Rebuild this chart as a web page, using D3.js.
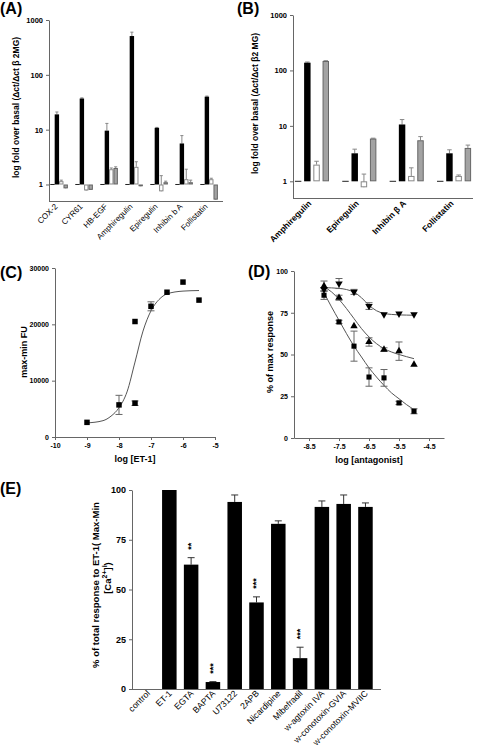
<!DOCTYPE html>
<html><head><meta charset="utf-8">
<script src="https://cdn.jsdelivr.net/npm/d3@7"></script>
<style>body{margin:0;background:#fff}svg{display:block}text{font-family:"Liberation Sans",Arial,sans-serif}</style>
</head><body><svg id="c" width="477" height="749"></svg>
<script>
// ---------- Panel A data ----------
const genesA = ["COX-2","CYR61","HB-EGF","Amphiregulin","Epiregulin","Inhibin b A","Follistatin"];
const basalA = [1,1,1,1,1,1,1];
const blackA = [19, 37, 9.6, 510, 10.8, 5.6, 40];
const blackA_top = [21, 38, 13, 600, 11, 7.8, 41];
const whiteA = [1.15, 0.78, 1.9, 2.1, 0.75, 1.25, 1.25];
const whiteA_top = [1.2, 0.8, 2.0, 2.6, 1.45, 1.9, 1.3];
const grayA = [0.85, 0.8, 2.0, 0.93, 1.1, 1.1, 0.53];
const grayA_top = [0.88, 0.82, 2.1, 0.95, 1.15, 1.2, 0.55];
const logTicks = [1, 10, 100, 1000];

// ---------- Panel B data ----------
const genesB = ["Amphiregulin","Epiregulin","Inhibin \u03B2 A","Follistatin"];
const basalB = [1,1,1,1];
const blackB = [138, 3.2, 10.6, 3.2];
const blackB_top = [142, 3.8, 13, 3.7];
const whiteB = [2.0, 0.78, 1.25, 1.25];
const whiteB_top = [2.3, 1.35, 1.75, 1.3];
const grayB = [148, 5.9, 5.5, 4.0];
const grayB_top = [150, 6.0, 6.4, 4.5];

// ---------- Panel C data ----------
const cX = [-9, -8, -7.5, -7.5, -7, -6.5, -6, -5.5];
const cY = [2600, 5700, 20500, 6000, 23200, 25700, 27500, 24300];
const cErr = [0, 1700, 0, 400, 800, 0, 0, 0];
const cCurveX = [-9, -8.5, -8.25, -8, -7.75, -7.5, -7.25, -7, -6.75, -6.5, -6, -5.5];
const cCurveY = [2500, 2900, 3700, 5200, 8000, 13300, 18800, 22400, 24400, 25400, 25900, 26000];
const cTicksX = [-10, -9, -8, -7, -6, -5];
const cTicksY = [0, 10000, 20000, 30000];

// ---------- Panel D data ----------
const dX = [-8, -7.5, -7, -6.5, -6, -5.5, -5];
const dSq = [85.5, 69.5, 55, 36.5, 36, 21, 16];
const dSqErr = [2.5, 1, 9, 5.5, 5, 1, 1.5];
const dUp = [91, 84, 67, 57.5, 53, 52, 44];
const dUpErr = [3, 1.5, 0.5, 2.5, 1, 5.5, 0];
const dDn = [89, 92.5, 87.5, 79, 74, 74.5, 74];
const dDnErr = [1, 3, 1.5, 2, 0.5, 0.5, 0];
const dCurveX = [-8, -7.75, -7.5, -7.25, -7, -6.75, -6.5, -6.25, -6, -5.75, -5.5, -5.25, -5];
const dSqCurve = [87, 78.5, 70.5, 62.5, 55, 48.5, 42, 36.5, 31.5, 27, 23.5, 20, 17];
const dUpCurve = [90.5, 87.5, 83, 77.5, 71.5, 65.5, 60.5, 56.5, 53.5, 51.5, 50, 48.7, 47.5];
const dDnCurve = [90, 89.9, 89.6, 88.9, 87.3, 84, 79.5, 76.2, 74.6, 74, 73.7, 73.6, 73.5];
const dTicksX = [-8.5, -7.5, -6.5, -5.5, -4.5];
const dTicksY = [0, 25, 50, 75, 100];

// ---------- Panel E data ----------
const eCats = ["control","ET-1","EGTA","BAPTA","U73122","2APB","Nicardipine","Mibefradil","w-agtoxin IVA","w-conotoxin-GVIA","w-conotoxin-MVIIC"];
const eVals = [0, 100, 62.5, 3.5, 94, 43.5, 83, 15.5, 91.5, 93, 91.5];
const eErr = [0, 0, 3.5, 0.2, 3.5, 2.8, 1.5, 5.5, 3, 4.5, 2];
const eSig = ["","","**","***","","***","","***","","",""];
const eTicksY = [0, 25, 50, 75, 100];

// ---------- helpers ----------
const svg = d3.select("#c");
svg.append("rect").attr("width",477).attr("height",749).attr("fill","#fff");
const AX = "#666";
function styleAxis(g, fs, weight){
  g.attr("font-family",'"Liberation Sans",Arial,sans-serif').attr("font-size",fs).attr("font-weight",weight||"bold");
  g.select(".domain").attr("stroke",AX);
  g.selectAll(".tick line").attr("stroke",AX);
  g.selectAll(".tick text").attr("fill","#000");
}
function label(x,y,txt,opt){
  opt=opt||{};
  const t = svg.append("text").attr("x",x).attr("y",y).text(txt)
    .attr("font-size",opt.size||9).attr("font-weight",opt.weight||"bold")
    .attr("text-anchor",opt.anchor||"middle").attr("fill","#000");
  if(opt.rotate!==undefined) t.attr("transform",`rotate(${opt.rotate},${x},${y})`);
  return t;
}

// ---------- grouped log bar chart ----------
function logBars(cfg){
  const y = d3.scaleLog().domain([0.5,1000]).range([cfg.y0, cfg.y1]);
  const x0 = d3.scaleBand().domain(cfg.genes).range([cfg.xa, cfg.xb])
    .paddingInner(cfg.pin).paddingOuter(cfg.pout).align(cfg.align);
  const keys = ["basal","black","white","gray"];
  const x1 = d3.scaleBand().domain(keys).range([0, x0.bandwidth()]).paddingInner(cfg.sub);
  const series = {
    basal:{v:cfg.basal, top:cfg.basal, fill:"none", stroke:"#222"},
    black:{v:cfg.black, top:cfg.blackTop, fill:"#000", stroke:"#000"},
    white:{v:cfg.white, top:cfg.whiteTop, fill:"#fff", stroke:"#888"},
    gray:{v:cfg.gray, top:cfg.grayTop, fill:"#a3a3a3", stroke:"#666"}
  };
  const g = svg.append("g");
  keys.forEach(k=>{
    const s = series[k];
    cfg.genes.forEach((gn,i)=>{
      if(k==="basal") return;
      const cx = x0(gn)+x1(k)+x1.bandwidth()/2;
      const v = s.v[i], t = s.top[i];
      if(t>v){
        g.append("line").attr("x1",cx).attr("x2",cx).attr("y1",y(v)).attr("y2",y(t)).attr("stroke","#888").attr("stroke-width",1);
        g.append("line").attr("x1",cx-x1.bandwidth()*0.35).attr("x2",cx+x1.bandwidth()*0.35).attr("y1",y(t)).attr("y2",y(t)).attr("stroke","#888").attr("stroke-width",1);
      }
    });
  });
  keys.forEach(k=>{
    const s = series[k];
    cfg.genes.forEach((gn,i)=>{
      const bx = x0(gn)+x1(k);
      const v = s.v[i];
      if(k==="basal"){
        g.append("line").attr("x1",bx).attr("x2",bx+x1.bandwidth()).attr("y1",y(1)).attr("y2",y(1)).attr("stroke",s.stroke).attr("stroke-width",1);
        return;
      }
      const yt = Math.min(y(v),y(1)), yb = Math.max(y(v),y(1));
      const sw = k==="black"?0:1;
      g.append("rect").attr("x",bx+sw/2).attr("y",yt+sw/2).attr("width",x1.bandwidth()-sw).attr("height",Math.max(0,yb-yt-sw))
        .attr("fill",s.fill).attr("stroke",sw?s.stroke:"none").attr("stroke-width",sw);
    });
  });
  const ya = svg.append("g").attr("transform",`translate(${cfg.xa},0)`)
    .call(d3.axisLeft(y).tickValues(logTicks).tickFormat(d3.format("d")).tickSize(3).tickSizeOuter(0));
  styleAxis(ya, 7.5);
  svg.append("line").attr("x1",cfg.xa).attr("x2",cfg.xb).attr("y1",cfg.y0+0.5).attr("y2",cfg.y0+0.5).attr("stroke",AX);
  cfg.genes.forEach(gn=>{
    const cx = x0(gn)+x0.bandwidth()/2 + cfg.lblShift;
    label(cx, cfg.y0+6, gn, {size:cfg.lblSize, weight:cfg.lblWeight, anchor:"end", rotate:-45});
  });
  label(cfg.titleX, (cfg.y0+cfg.y1)/2 - 3, cfg.title, {size:8.5, rotate:-90});
}

logBars({genes:genesA, basal:basalA, black:blackA, blackTop:blackA_top, white:whiteA, whiteTop:whiteA_top,
  gray:grayA, grayTop:grayA_top, y0:201, y1:20, xa:49, xb:223, pin:0.296, pout:0.128, align:0.2, sub:0,
  lblShift:-1, lblSize:8, lblWeight:"normal", title:"log fold over basal (\u0394ct/\u0394ct \u03B2 2MG)", titleX:19});
logBars({genes:genesB, basal:basalB, black:blackB, blackTop:blackB_top, white:whiteB, whiteTop:whiteB_top,
  gray:grayB, grayTop:grayB_top, y0:198, y1:15, xa:293, xb:473, pin:0.28, pout:0.04, align:0.5, sub:0.3,
  lblShift:0, lblSize:8.5, lblWeight:"bold", title:"log fold over basal (\u0394ct/\u0394ct \u03B22 MG)", titleX:258});

// ---------- Panel C ----------
(function(){
  const x = d3.scaleLinear().domain([-10,-5]).range([55,215]);
  const y = d3.scaleLinear().domain([0,30000]).range([437,268]);
  const g = svg.append("g");
  const line = d3.line().x((d,i)=>x(cCurveX[i])).y(d=>y(d)).curve(d3.curveMonotoneX);
  g.append("path").attr("d",line(cCurveY)).attr("fill","none").attr("stroke","#555").attr("stroke-width",1);
  cX.forEach((cx,i)=>{
    if(cErr[i]>0){
      const px=x(cx);
      g.append("line").attr("x1",px).attr("x2",px).attr("y1",y(cY[i]-cErr[i])).attr("y2",y(cY[i]+cErr[i])).attr("stroke","#666");
      [cY[i]-cErr[i], cY[i]+cErr[i]].forEach(v=>g.append("line").attr("x1",px-3.5).attr("x2",px+3.5).attr("y1",y(v)).attr("y2",y(v)).attr("stroke","#666"));
    }
  });
  g.selectAll(".pt").data(cX).enter().append("path")
    .attr("transform",(d,i)=>`translate(${x(d)},${y(cY[i])})`)
    .attr("d",d3.symbol(d3.symbolSquare,30)).attr("fill","#000");
  const xa = svg.append("g").attr("transform","translate(0,437)")
    .call(d3.axisBottom(x).tickValues(cTicksX).tickFormat(d3.format("d")).tickSize(3).tickSizeOuter(0));
  styleAxis(xa,7);
  xa.selectAll(".tick text").text(d=>String(d));
  const ya = svg.append("g").attr("transform","translate(55,0)")
    .call(d3.axisLeft(y).tickValues(cTicksY).tickFormat(d=>String(d)).tickSize(3).tickSizeOuter(0));
  styleAxis(ya,7);
  label(135, 462, "log [ET-1]", {size:9});
  label(27, 352, "max-min FU", {size:9, rotate:-90});
})();

// ---------- Panel D ----------
(function(){
  const x = d3.scaleLinear().domain([-9,-4]).range([294,444]);
  const y = d3.scaleLinear().domain([0,100]).range([438,271]);
  const g = svg.append("g");
  const line = d3.line().x((d,i)=>x(dCurveX[i])).y(d=>y(d)).curve(d3.curveMonotoneX);
  [dSqCurve,dUpCurve,dDnCurve].forEach(c=>g.append("path").attr("d",line(c)).attr("fill","none").attr("stroke","#555").attr("stroke-width",1));
  const sets = [
    {v:dSq, e:dSqErr, sym:d3.symbolSquare, size:26, rot:0},
    {v:dUp, e:dUpErr, sym:d3.symbolTriangle, size:24, rot:0},
    {v:dDn, e:dDnErr, sym:d3.symbolTriangle, size:24, rot:180}
  ];
  sets.forEach(s=>{
    dX.forEach((dx,i)=>{
      if(s.e[i]>0.6){
        const px=x(dx);
        g.append("line").attr("x1",px).attr("x2",px).attr("y1",y(s.v[i]-s.e[i])).attr("y2",y(s.v[i]+s.e[i])).attr("stroke","#666");
        [s.v[i]-s.e[i], s.v[i]+s.e[i]].forEach(v=>g.append("line").attr("x1",px-3.5).attr("x2",px+3.5).attr("y1",y(v)).attr("y2",y(v)).attr("stroke","#666"));
      }
    });
  });
  sets.forEach(s=>{
    dX.forEach((dx,i)=>{
      g.append("path").attr("transform",`translate(${x(dx)},${y(s.v[i])}) rotate(${s.rot})`)
        .attr("d",d3.symbol(s.sym,s.size)).attr("fill","#000");
    });
  });
  const xa = svg.append("g").attr("transform","translate(0,438)")
    .call(d3.axisBottom(x).tickValues(dTicksX).tickFormat(d=>d.toFixed(1)).tickSize(3).tickSizeOuter(0));
  styleAxis(xa,7);
  xa.selectAll(".tick text").text(d=>d.toFixed(1));
  const ya = svg.append("g").attr("transform","translate(294,0)")
    .call(d3.axisLeft(y).tickValues(dTicksY).tickFormat(d=>String(d)).tickSize(3).tickSizeOuter(0));
  styleAxis(ya,7);
  label(369, 463, "log [antagonist]", {size:9});
  label(273, 352, "% of max response", {size:9, rotate:-90});
})();

// ---------- Panel E ----------
(function(){
  const x = d3.scaleBand().domain(eCats).range([132,381]).paddingInner(0.334).paddingOuter(0.38);
  const y = d3.scaleLinear().domain([0,100]).range([689,490]);
  const g = svg.append("g");
  eCats.forEach((c,i)=>{
    const bx = x(c), cx = bx + x.bandwidth()/2;
    if(eErr[i]>0){
      const yt = y(eVals[i]+eErr[i]);
      g.append("line").attr("x1",cx).attr("x2",cx).attr("y1",y(eVals[i])).attr("y2",yt).attr("stroke","#333");
      g.append("line").attr("x1",cx-3.5).attr("x2",cx+3.5).attr("y1",yt).attr("y2",yt).attr("stroke","#333");
    }
    if(eVals[i]>0) g.append("rect").attr("x",bx).attr("y",y(eVals[i])).attr("width",x.bandwidth()).attr("height",y(0)-y(eVals[i])).attr("fill","#000");
    if(eSig[i]){
      const ty = y(eVals[i]+eErr[i]) - 8;
      g.append("text").attr("x",cx+3).attr("y",ty).text(eSig[i]).attr("font-size",9).attr("font-weight","bold")
        .attr("text-anchor","start").attr("transform",`rotate(-90,${cx+3},${ty})`);
    }
    label(cx+3, 694, c, {size:8.7, weight:"normal", anchor:"end", rotate:-45});
  });
  const ya = svg.append("g").attr("transform","translate(132,0)")
    .call(d3.axisLeft(y).tickValues(eTicksY).tickFormat(d=>String(d)).tickSize(3).tickSizeOuter(0));
  styleAxis(ya,9);
  svg.append("line").attr("x1",132).attr("x2",381).attr("y1",689.5).attr("y2",689.5).attr("stroke",AX);
  label(99, 585, "% of total response to ET-1( Max-Min", {size:9.5, rotate:-90});
  const t2 = svg.append("text").attr("transform","translate(111,578) rotate(-90)").attr("text-anchor","middle")
    .attr("font-size",9.5).attr("font-weight","bold");
  t2.append("tspan").text("[Ca");
  t2.append("tspan").text("2+").attr("dy",-4).attr("font-size",7);
  t2.append("tspan").text("]").attr("dy",4);
  t2.append("tspan").text("i").attr("dy",-4).attr("font-size",7);
  t2.append("tspan").text(")").attr("dy",4);
})();

// ---------- panel letters ----------
label(0,14,"(A)",{size:16, anchor:"start"});
label(237,14,"(B)",{size:16, anchor:"start"});
label(0,278,"(C)",{size:16, anchor:"start"});
label(248,277,"(D)",{size:16, anchor:"start"});
label(0,494,"(E)",{size:16, anchor:"start"});
</script></body></html>
